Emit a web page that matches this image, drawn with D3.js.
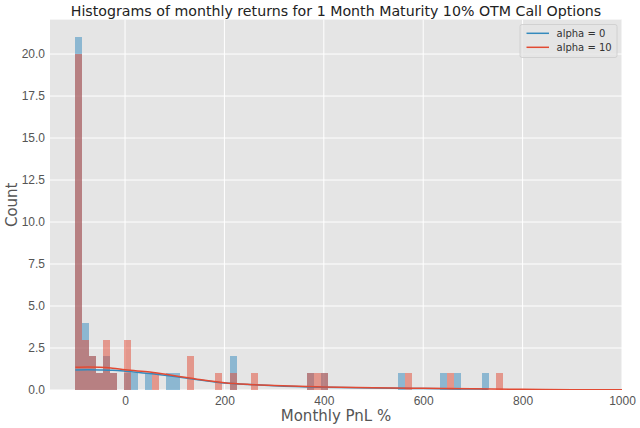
<!DOCTYPE html>
<html>
<head>
<meta charset="utf-8">
<script src="https://cdn.jsdelivr.net/npm/d3@7"></script>
<style>
	body {margin:0; background:#fff;}
	svg {font-family:"DejaVu Sans", sans-serif;}
	.tick text {fill:#555; font-size:12px;}
</style>
</head>
<body>
<svg id="chart" width="640" height="428"></svg>
<script>
// histogram bins (left edge of first bin, width of a bin, in PnL %)
var binStart = -100,
	binWidth = 14.1;

// counts per bin
var countsAlpha0 = [21,4,2,1,2,1,0,1,1,0,1,0,0,1,1,0,0,0,0,0,0,0,2,0,0,0,0,0,0,0,0,0,0,1,0,1,0,0,0,0,0,0,0,0,0,0,1,0,0,0,0,0,1,0,1,0,0,0,1,0,0];
var countsAlpha10 = [20,3,2,1,3,1,0,3,0,0,0,1,0,0,0,0,2,0,0,0,1,0,1,0,0,1,0,0,0,0,0,0,0,1,1,1,0,0,0,0,0,0,0,0,0,0,0,1,0,0,0,0,0,1,0,0,0,0,0,0,1];

// kde curves (x in PnL %, y in counts)
var kdeX0 = [-100,-75,-50,-25,0,50,100,150,200,250,300,400,500,600,700,730];
var kdeY0 = [1.19,1.2,1.19,1.17,1.12,0.98,0.8,0.6,0.42,0.33,0.26,0.17,0.12,0.09,0.06,0.05];
var kdeX10 = [-100,-75,-50,-25,0,50,100,150,200,250,300,400,500,600,700,800,900,1000];
var kdeY10 = [1.35,1.37,1.36,1.3,1.2,1.07,0.85,0.62,0.43,0.33,0.27,0.18,0.13,0.1,0.07,0.04,0.02,0.01];

var xTicks = [0,200,400,600,800,1000];
var yTicks = [0,2.5,5,7.5,10,12.5,15,17.5,20];
var seriesNames = ["alpha = 0", "alpha = 10"];
var colors = ["#348ABD", "#E24A33"];

var pLeft = 50, pRight = 622, pTop = 19.6, pBottom = 390;

var svg = d3.select("#chart");

var x = d3.scaleLinear().domain([-151, 1000]).range([pLeft, pRight]);
var y = d3.scaleLinear().domain([0, 22.05]).range([pBottom, pTop]);

svg.append("rect")
	.attr("x", pLeft).attr("y", pTop)
	.attr("width", pRight - pLeft).attr("height", pBottom - pTop)
	.attr("fill", "#E5E5E5")
;

svg.append("clipPath").attr("id", "plotclip")
	.append("rect")
		.attr("x", pLeft).attr("y", pTop)
		.attr("width", pRight - pLeft).attr("height", pBottom - pTop)
;

//Grid
svg.append("g")
	.selectAll("line").data(xTicks).enter().append("line")
		.attr("x1", function(d) {return x(d);})
		.attr("x2", function(d) {return x(d);})
		.attr("y1", pTop).attr("y2", pBottom)
		.attr("stroke", "#fff").attr("stroke-width", 1)
;
svg.append("g")
	.selectAll("line").data(yTicks).enter().append("line")
		.attr("y1", function(d) {return y(d);})
		.attr("y2", function(d) {return y(d);})
		.attr("x1", pLeft).attr("x2", pRight)
		.attr("stroke", "#fff").attr("stroke-width", 1)
;

var plot = svg.append("g").attr("clip-path", "url(#plotclip)");

//Bars, blue first, red on top
[countsAlpha0, countsAlpha10].forEach(function(counts, k) {
	var bins = counts.map(function(c, i) {
		return {x0: binStart + i*binWidth, x1: binStart + (i+1)*binWidth, n: c};
	}).filter(function(b) {return b.n > 0;});

	plot.append("g")
		.attr("shape-rendering", "crispEdges")
		.selectAll("rect").data(bins).enter().append("rect")
			.attr("x", function(d) {return x(d.x0);})
			.attr("width", function(d) {return x(d.x1) - x(d.x0);})
			.attr("y", function(d) {return y(d.n);})
			.attr("height", function(d) {return y(0) - y(d.n);})
			.attr("fill", colors[k])
			.attr("fill-opacity", 0.5)
	;
});

//KDE lines
var line = d3.line()
	.x(function(d) {return x(d[0]);})
	.y(function(d) {return y(d[1]);})
	.curve(d3.curveMonotoneX)
;
[[kdeX0, kdeY0], [kdeX10, kdeY10]].forEach(function(s, k) {
	plot.append("path")
		.datum(d3.zip(s[0], s[1]))
		.attr("d", line)
		.attr("fill", "none")
		.attr("stroke", colors[k])
		.attr("stroke-width", 1.5)
	;
});

//Axes
var xAxis = svg.append("g")
	.attr("transform", "translate(0," + pBottom + ")")
	.call(d3.axisBottom(x).tickValues(xTicks).tickSize(0).tickPadding(6).tickFormat(d3.format("d")))
;
var yAxis = svg.append("g")
	.attr("transform", "translate(" + pLeft + ",0)")
	.call(d3.axisLeft(y).tickValues(yTicks).tickSize(0).tickPadding(5).tickFormat(d3.format(".1f")))
;
xAxis.select(".domain").remove();
yAxis.select(".domain").remove();

svg.append("text")
	.attr("x", (pLeft + pRight)/2).attr("y", 421)
	.style("text-anchor", "middle")
	.style("font-size", "15px")
	.attr("fill", "#555")
	.text("Monthly PnL %")
;
svg.append("text")
	.attr("transform", "translate(17," + ((pTop + pBottom)/2) + ") rotate(-90)")
	.style("text-anchor", "middle")
	.style("font-size", "15px")
	.attr("fill", "#555")
	.text("Count")
;
svg.append("text")
	.attr("x", (pLeft + pRight)/2).attr("y", 15.5)
	.style("text-anchor", "middle")
	.style("font-size", "14.2px")
	.attr("fill", "#222")
	.text("Histograms of monthly returns for 1 Month Maturity 10% OTM Call Options")
;

//Legend
var legend = svg.append("g");
legend.append("rect")
	.attr("x", 520).attr("y", 24.5)
	.attr("width", 97).attr("height", 33)
	.attr("rx", 2)
	.attr("fill", "#E5E5E5").attr("fill-opacity", 0.8)
	.attr("stroke", "#CCCCCC").attr("stroke-width", 0.8)
;
seriesNames.forEach(function(name, k) {
	var ly = 33.3 + k*14;
	legend.append("line")
		.attr("x1", 526.5).attr("x2", 549)
		.attr("y1", ly).attr("y2", ly)
		.attr("stroke", colors[k]).attr("stroke-width", 1.5)
	;
	legend.append("text")
		.attr("x", 556.5).attr("y", ly)
		.attr("dy", "0.35em")
		.style("font-size", "10px")
		.attr("fill", "#333")
		.text(name)
	;
});
</script>
</body>
</html>
